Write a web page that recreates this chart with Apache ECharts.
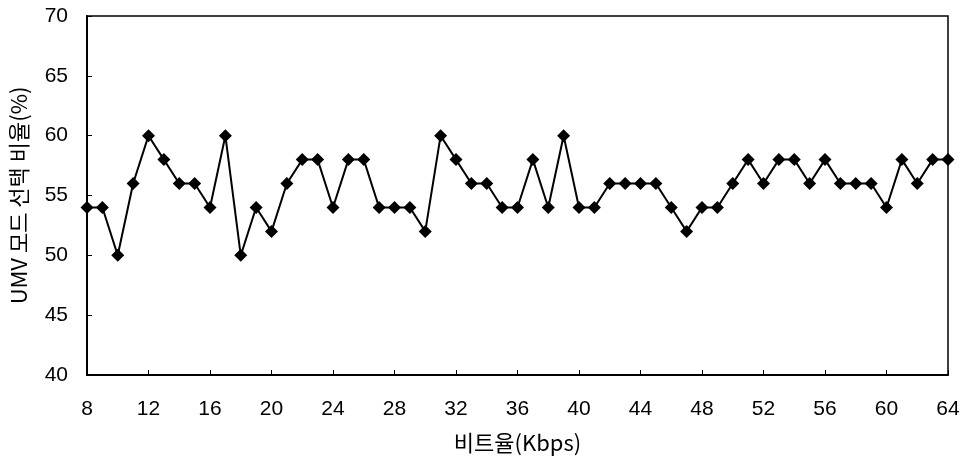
<!DOCTYPE html>
<html>
<head>
<meta charset="utf-8">
<script src="https://cdn.jsdelivr.net/npm/echarts@6/dist/echarts.min.js"></script>
<style>html,body{margin:0;padding:0;background:#fff;}#c{width:971px;height:462px;}</style>
</head>
<body>
<div id="c"></div>
<script>
const bitrates = [8,9,10,11,12,13,14,15,16,17,18,19,20,21,22,23,24,25,26,27,28,29,30,31,32,33,34,35,36,37,38,39,40,41,42,43,44,45,46,47,48,49,50,51,52,53,54,55,56,57,58,59,60,61,62,63,64];
const umvRatio = [54,54,50,56,60,58,56,56,54,60,50,54,52,56,58,58,54,58,58,54,54,54,52,60,58,56,56,54,54,58,54,60,54,54,56,56,56,56,54,52,54,54,56,58,56,58,58,56,58,56,56,56,54,58,56,58,58];
const xName = '비트율(Kbps)';
const yName = 'UMV 모드 선택 비율(%)';

const chart = echarts.init(document.getElementById('c'), null, {renderer: 'canvas'});
const labelFont = {color: '#000', fontFamily: 'Liberation Sans, Arial, sans-serif', fontSize: 21};
chart.setOption({
  animation: false,
  backgroundColor: '#fff',
  grid: {left: 86, right: 23, top: 16, bottom: 87, show: true, borderColor: '#000', borderWidth: 1.5, backgroundColor: 'transparent'},
  xAxis: {
    type: 'value', min: 8, max: 64, interval: 4,
    name: xName, nameLocation: 'middle', nameGap: 57,
    nameTextStyle: {color: '#000', fontFamily: '"Noto Sans CJK KR", sans-serif', fontSize: 22},
    axisLine: {show: true, lineStyle: {color: '#000', width: 2}},
    axisTick: {show: true, inside: true, length: 5, lineStyle: {color: '#000', width: 1}},
    axisLabel: Object.assign({margin: 24}, labelFont),
    splitLine: {show: false}
  },
  yAxis: {
    type: 'value', min: 40, max: 70, interval: 5,
    name: yName, nameLocation: 'middle', nameGap: 57,
    nameTextStyle: {color: '#000', fontFamily: '"Noto Sans CJK KR", sans-serif', fontSize: 22},
    axisLine: {show: true, lineStyle: {color: '#000', width: 2}},
    axisTick: {show: true, inside: true, length: 5, lineStyle: {color: '#000', width: 1}},
    axisLabel: Object.assign({margin: 19}, labelFont),
    splitLine: {show: false}
  },
  series: [{
    type: 'line',
    data: bitrates.map((b, i) => [b, umvRatio[i]]),
    symbol: 'diamond', symbolSize: 13,
    itemStyle: {color: '#000'},
    lineStyle: {color: '#000', width: 2},
    clip: false
  }]
});
</script>
</body>
</html>
